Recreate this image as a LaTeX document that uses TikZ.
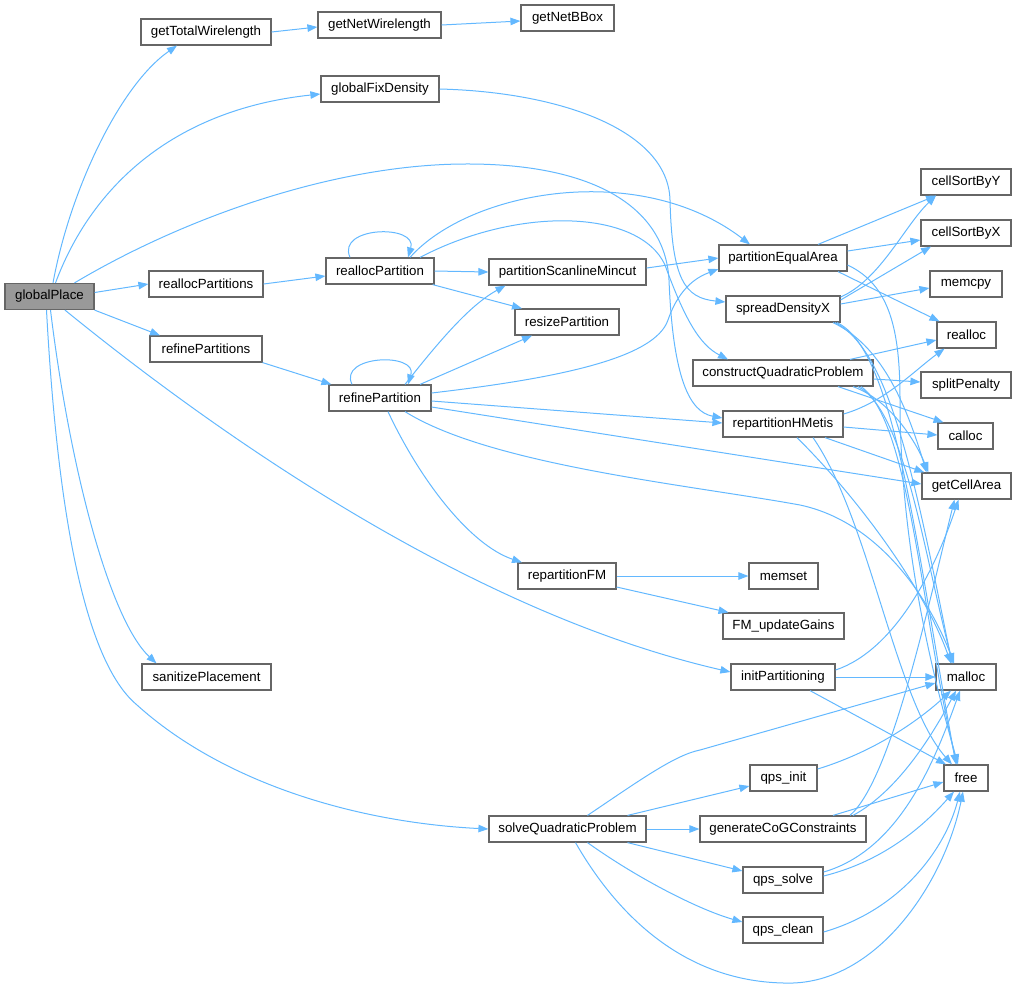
\documentclass[tikz,border=0pt]{standalone}
\usepackage{fontspec}
\setmainfont{Liberation Sans}
\usetikzlibrary{arrows.meta}
\definecolor{edgec}{HTML}{63B8FF}
\definecolor{bordc}{HTML}{666666}
\definecolor{rootc}{HTML}{999999}
\begin{document}
\begin{tikzpicture}[x=1pt,y=-1pt,
  box/.style={draw=bordc,line width=1.2pt,fill=white,rectangle,minimum height=26pt,inner sep=0pt,
    font=\fontsize{13.3}{15}\selectfont,text=black},
  root/.style={box,fill=rootc},
  call/.style={draw=edgec,line width=1pt,-{Triangle[length=10pt,width=7.5pt]}}]
\useasboundingbox (0,0) rectangle (1017,989);
% rank 1
\node[root,minimum width=89pt] (gp) at (49.5,296.5) {globalPlace};
% rank 2
\node[box,minimum width=130pt] (gtw) at (206,32) {getTotalWirelength};
\node[box,minimum width=114pt] (rps) at (206,284) {reallocPartitions};
\node[box,minimum width=112pt] (rfs) at (206,349) {refinePartitions};
\node[box,minimum width=129pt] (sp) at (206.5,677) {sanitizePlacement};
% rank 3
\node[box,minimum width=123pt] (gnw) at (379.5,25) {getNetWirelength};
\node[box,minimum width=118pt] (gfd) at (380,89) {globalFixDensity};
\node[box,minimum width=108pt] (rp) at (380,271) {reallocPartition};
\node[box,minimum width=102pt] (rf) at (380,398) {refinePartition};
% rank 4
\node[box,minimum width=93pt] (gnb) at (567.5,18) {getNetBBox};
\node[box,minimum width=157pt] (psm) at (567.5,272) {partitionScanlineMincut};
\node[box,minimum width=104pt] (rsz) at (567,322) {resizePartition};
\node[box,minimum width=98pt] (rfm) at (567,576) {repartitionFM};
\node[box,minimum width=157pt] (sqp) at (567.5,829) {solveQuadraticProblem};
% rank 5
\node[box,minimum width=128pt] (pea) at (783,258) {partitionEqualArea};
\node[box,minimum width=114pt] (sdx) at (783,309) {spreadDensityX};
\node[box,minimum width=180pt] (cqp) at (783,373) {constructQuadraticProblem};
\node[box,minimum width=120pt] (rhm) at (783,424) {repartitionHMetis};
\node[box,minimum width=69pt] (mset) at (783.5,576) {memset};
\node[box,minimum width=121pt] (fmu) at (783.5,626) {FM\_updateGains};
\node[box,minimum width=104pt] (ip) at (783,677) {initPartitioning};
\node[box,minimum width=67pt] (qi) at (783.5,778) {qps\_init};
\node[box,minimum width=166pt] (gcg) at (783,829) {generateCoGConstraints};
\node[box,minimum width=80pt] (qs) at (783,880) {qps\_solve};
\node[box,minimum width=80pt] (qc) at (783,930) {qps\_clean};
% rank 6
\node[box,minimum width=90pt] (csy) at (966,182) {cellSortByY};
\node[box,minimum width=90pt] (csx) at (966,233) {cellSortByX};
\node[box,minimum width=72pt] (mcp) at (966,284) {memcpy};
\node[box,minimum width=59pt] (rea) at (966.5,335) {realloc};
\node[box,minimum width=90pt] (spn) at (966,385) {splitPenalty};
\node[box,minimum width=55pt] (cal) at (965.5,436) {calloc};
\node[box,minimum width=89pt] (gca) at (966.5,486) {getCellArea};
\node[box,minimum width=60pt] (mal) at (966,677) {malloc};
\node[box,minimum width=44pt] (fre) at (966,778) {free};

% globalPlace
\draw[call] ([xshift=3.5pt]gp.north) .. controls (70,190) and (120,85) .. ([xshift=-29pt]gtw.south);
\draw[call] ([xshift=6pt]gp.north) .. controls (90,190) and (170,110) .. ([yshift=-5pt]gfd.west);
\draw[call] ([xshift=25pt]gp.north) .. controls (180,220) and (330,165) .. (463,164)
   .. controls (590,163) and (665,205) .. (669,280) .. controls (673,380) and (690,412) .. ([yshift=6pt]rhm.west);
\draw[call] ([yshift=4pt]gp.east) -- (rps.west);
\draw[call] (gp.south east) -- ([xshift=-46pt]rfs.north);
\draw[call] ([xshift=15.5pt]gp.south) .. controls (200,420) and (460,610) .. ([yshift=5pt]ip.west);
\draw[call] ([xshift=1pt]gp.south) .. controls (70,470) and (110,620) .. ([xshift=-50pt]sp.north);
\draw[call] ([xshift=-3pt]gp.south) .. controls (60,560) and (95,670) .. (137,705)
   .. controls (220,780) and (350,822) .. (sqp.west);
% rank 2/3
\draw[call] (gtw.east) -- ([yshift=-2pt]gnw.west);
\draw[call] (gnw.east) -- ([yshift=-3pt]gnb.west);
\draw[call] (gfd.east) .. controls (560,92) and (668,130) .. (670,200)
   .. controls (672,280) and (685,298) .. ([yshift=7pt]sdx.west);
\draw[call] (rps.east) -- ([yshift=-5pt]rp.west);
\draw[call] (rfs.south east) -- ([xshift=3pt]rf.north west);
% reallocPartition
\draw[call] ([xshift=-30pt]rp.north) .. controls (336,226) and (418,224) .. ([xshift=28pt]rp.north);
\draw[call] (rp.east) -- (psm.west);
\draw[call] ([xshift=-2pt]rp.south east) -- ([xshift=-45pt]rsz.north);
\draw[call] ([xshift=30pt]rp.north) .. controls (470,190) and (640,160) .. ([xshift=-33pt]pea.north);
\draw[call] ([xshift=40pt]rp.north) .. controls (520,205) and (640,210) .. (665,265)
   .. controls (685,320) and (700,345) .. ([xshift=-55pt]cqp.north);
% refinePartition
\draw[call] ([xshift=-28pt]rf.north) .. controls (338,355) and (418,352) .. ([xshift=28pt]rf.north);
\draw[call] ([xshift=25pt]rf.north) .. controls (440,340) and (470,305) .. ([xshift=-62pt]psm.south);
\draw[call] ([xshift=40pt]rf.north) -- ([xshift=-35pt]rsz.south);
\draw[call] ([yshift=5pt]rf.east) .. controls (560,378) and (655,358) .. (668,320)
   .. controls (680,285) and (700,276) .. ([yshift=-11pt]pea.west);
\draw[call] ([yshift=-3pt]rf.east) -- ([yshift=1pt]rhm.west);
\draw[call] ([yshift=-9pt]rf.east) -- ([yshift=2pt]gca.west);
\draw[call] ([xshift=25pt]rf.south) .. controls (490,465) and (690,485) .. (800,505)
   .. controls (880,522) and (930,600) .. ([xshift=-12pt]mal.north);
\draw[call] ([xshift=8pt]rf.south) .. controls (420,480) and (470,545) .. ([xshift=-45pt]rfm.north);
% partitionScanlineMincut
\draw[call] ([yshift=4pt]psm.east) -- (pea.west);
% partitionEqualArea
\draw[call] ([xshift=35pt]pea.north) -- ([xshift=-30pt]csy.south);
\draw[call] ([yshift=7pt]pea.east) -- ([yshift=-7pt]csx.west);
\draw[call] ([xshift=55pt]pea.south) -- ([xshift=-27pt]rea.north);
\draw[call] ([yshift=-7pt]pea.east) .. controls (890,285) and (900,330) .. (900,400)
   .. controls (900,560) and (940,700) .. ([xshift=-8pt]fre.north);
% spreadDensityX
\draw[call] ([yshift=12pt]sdx.east) .. controls (880,280) and (905,225) .. ([xshift=-30pt]csy.south);
\draw[call] ([yshift=9pt]sdx.east) -- ([xshift=-35pt]csx.south);
\draw[call] ([yshift=5pt]sdx.east) -- ([yshift=-4pt]mcp.west);
\draw[call] ([xshift=50pt]sdx.south) .. controls (880,345) and (905,400) .. ([xshift=-40pt]gca.north);
\draw[call] ([xshift=52pt]sdx.south) .. controls (890,350) and (915,480) .. ([xshift=-14pt]mal.north);
\draw[call] ([xshift=54pt]sdx.south) .. controls (895,350) and (915,540) .. ([xshift=-10pt]fre.north);
% constructQuadraticProblem
\draw[call] ([xshift=67pt]cqp.north) -- ([yshift=-5pt]rea.west);
\draw[call] ([yshift=-6pt]cqp.east) -- ([yshift=3pt]spn.west);
\draw[call] ([xshift=55pt]cqp.south) -- ([xshift=-22pt]cal.north);
\draw[call] ([xshift=70pt]cqp.south) .. controls (890,400) and (915,440) .. ([xshift=-38pt]gca.north);
\draw[call] ([xshift=75pt]cqp.south) .. controls (905,410) and (925,560) .. ([xshift=-13pt]mal.north);
\draw[call] ([xshift=78pt]cqp.south) .. controls (910,420) and (922,620) .. ([xshift=-9pt]fre.north);
% repartitionHMetis
\draw[call] ([yshift=10pt]rhm.east) .. controls (885,402) and (915,370) .. ([xshift=-22pt]rea.south);
\draw[call] ([yshift=-3pt]rhm.east) -- ([yshift=1pt]cal.west);
\draw[call] ([xshift=42pt]rhm.south) -- ([xshift=3pt]gca.north west);
\draw[call] ([xshift=14pt]rhm.south) .. controls (860,500) and (925,590) .. ([xshift=-15pt]mal.north);
\draw[call] ([xshift=30pt]rhm.south) .. controls (870,520) and (895,700) .. ([xshift=-14pt]fre.north);
% repartitionFM
\draw[call] (rfm.east) -- (mset.west);
\draw[call] ([yshift=-11pt]rfm.east) -- ([xshift=-55pt]fmu.north);
% initPartitioning
\draw[call] ([yshift=7pt]ip.east) .. controls (895,650) and (935,570) .. ([xshift=-8pt]gca.south);
\draw[call] (ip.east) -- (mal.west);
\draw[call] ([xshift=27pt]ip.south) -- ([xshift=-20pt]fre.north);
% solveQuadraticProblem
\draw[call] ([xshift=20pt]sqp.north) .. controls (640,780) and (675,755) .. (700,750) -- ([yshift=-6pt]mal.west);
\draw[call] ([xshift=60pt]sqp.north) -- ([yshift=-8pt]qi.west);
\draw[call] (sqp.east) -- (gcg.west);
\draw[call] ([xshift=60pt]sqp.south) -- ([yshift=9pt]qs.west);
\draw[call] ([xshift=20pt]sqp.south) .. controls (640,880) and (700,910) .. ([yshift=8pt]qc.west);
\draw[call] ([xshift=8pt]sqp.south) .. controls (620,920) and (690,985) .. (793,983)
   .. controls (880,980) and (945,880) .. ([xshift=-3pt]fre.south);
% qps and CoG
\draw[call] ([yshift=9pt]qi.east) .. controls (880,750) and (925,715) .. ([xshift=-15pt]mal.south);
\draw[call] ([xshift=50pt]gcg.north) -- ([yshift=-4pt]fre.west);
\draw[call] ([xshift=70pt]gcg.north) .. controls (900,790) and (935,730) .. ([xshift=-10pt]mal.south);
\draw[call] ([xshift=67pt]gcg.north) .. controls (890,780) and (925,620) .. ([xshift=-12pt]gca.south);
\draw[call] ([yshift=8pt]qs.east) .. controls (900,850) and (935,760) .. ([xshift=-6pt]mal.south);
\draw[call] ([yshift=4pt]qs.east) .. controls (880,862) and (920,830) .. ([xshift=-12pt]fre.south);
\draw[call] ([yshift=-2pt]qc.east) .. controls (900,910) and (945,850) .. ([xshift=-6pt]fre.south);
\end{tikzpicture}
\end{document}
